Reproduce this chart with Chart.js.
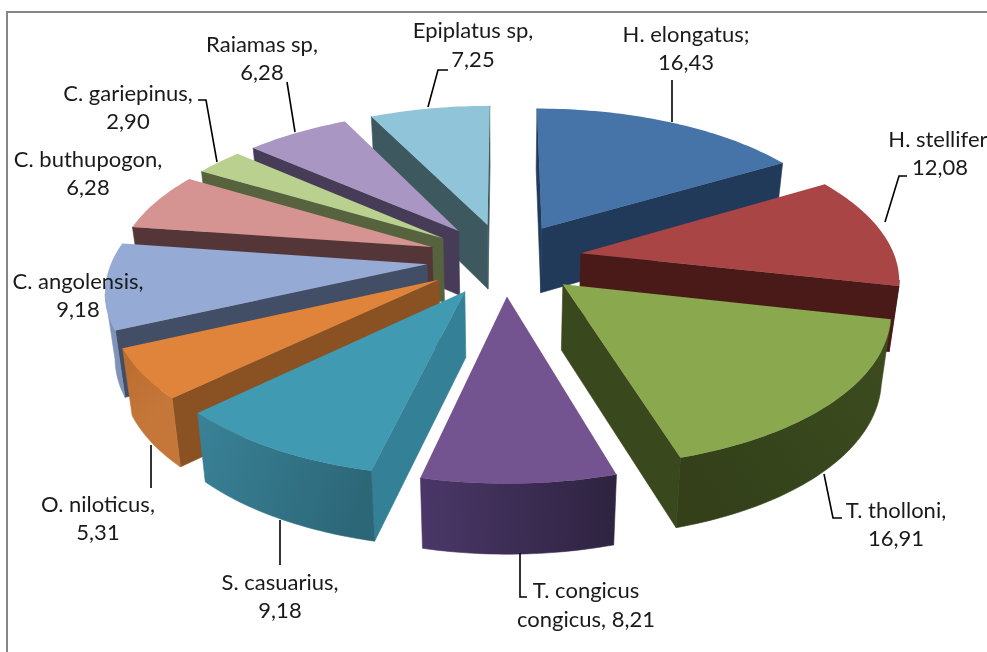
<!DOCTYPE html>
<html><head><meta charset="utf-8">
<style>html,body{margin:0;padding:0;background:#fff;overflow:hidden}canvas{display:block}</style>
<script src="https://cdn.jsdelivr.net/npm/chart.js@4"></script>
</head><body>
<canvas id="c" width="987" height="652"></canvas>
<script>
const categories = ["H. elongatus","H. stellifer","T. tholloni","T. congicus congicus","S. casuarius","O. niloticus","C. angolensis","C. buthupogon","C. gariepinus","Raiamas sp","Epiplatus sp"];
const values = [16.43,12.08,16.91,8.21,9.18,5.31,9.18,6.28,2.90,6.28,7.25];
const labelLines = [["H. elongatus;","16,43"],["H. stellifer,","12,08"],["T. tholloni,","16,91"],["T. congicus","congicus, 8,21"],["S. casuarius,","9,18"],["O. niloticus,","5,31"],["C. angolensis,","9,18"],["C. buthupogon,","6,28"],["C. gariepinus,","2,90"],["Raiamas sp,","6,28"],["Epiplatus sp,","7,25"]];
const topColors = ["#4674a9","#a94544","#8aa84d","#745490","#3f9ab2","#df843a","#95abd5","#d59491","#b9d08e","#a996c2","#90c4d9"];
const wallColors = ["#223a5a","#4a1a18","#3a481d","#3a2a50","#348097","#8a5223","#414e65","#553638","#56633e","#463c58","#3e5860"];
const rimStart = ["#223a5a","#4a1a18","#3d4d1f","#2e2340","#2c6778","#c5773a","#7f92b8","#553638","#56633e","#463c58","#3e5860"];
const rimEnd = ["#1f3658","#4a1a18","#33401a","#4a3768","#3a8298","#b96c2c","#8a9dc2","#553638","#56633e","#463c58","#3e5860"];
const labelAnchors = [[686,35,63],[940,140,168],[896,511,539],[586,591,620],[280,583,611],[98,505,533],[78,282,310],[88,160,188],[128,94,122],[262,45,73],[473,31,60]];
const leaders = [[[672,80],[672,122]],[[907,176],[899,176],[885,222]],[[824,474],[833,518],[842,518]],[[520,553],[520,597],[527,597]],[[280,520],[280,565]],[[151,445],[151,488]],[],[],[[198,100],[206,100],[217,162]],[[287,82],[295,132]],[[448,70],[438,70],[428,107]]];
const explode = 57;
const view = {kx:1.365, ky:0.635, persp:0.15, depth:65, depthPersp:0.4, bottomShrink:0.975};

const frame = {id:'frame',beforeDraw(ch){
  const c=ch.ctx;c.save();c.fillStyle='#fff';c.fillRect(0,0,ch.width,ch.height);
  c.strokeStyle='#868686';c.lineWidth=2;c.beginPath();c.moveTo(7,652);c.lineTo(7,12);c.lineTo(987,12);c.stroke();c.restore();
}};
const pie3d = {id:'pie3d',
  beforeDatasetDraw(ch,args){
    const c=ch.ctx, arcs=args.meta.data;
    const order=arcs.map((el,i)=>({el,i,mid:(el.startAngle+el.endAngle)/2})).sort((p,q)=>Math.sin(p.mid)-Math.sin(q.mid));
    order.forEach(({el,i,mid})=>{
      const R=el.outerRadius, off=el.options.offset/R;
      const ox=off*Math.cos(mid), oy=off*Math.sin(mid);
      const proj=(a,b,z)=>{
        const s=1/(1-view.persp*b);
        const shrink=z?view.bottomShrink:1;
        return [el.x+R*view.kx*a*s*shrink, el.y+R*view.ky*b*s+z*view.depth*Math.pow(s,view.depthPersp)];
      };
      const pts=[[ox,oy]];
      const n=Math.max(8,Math.ceil((el.endAngle-el.startAngle)/0.02));
      for(let k=0;k<=n;k++){const t=el.startAngle+(el.endAngle-el.startAngle)*k/n;pts.push([ox+Math.cos(t),oy+Math.sin(t)]);}
      const top=pts.map(p=>proj(p[0],p[1],0)), bot=pts.map(p=>proj(p[0],p[1],1));
      const N=top.length;
      const quad=(k,m,fill)=>{
        c.fillStyle=fill;c.strokeStyle=fill;c.lineWidth=0.6;
        c.beginPath();c.moveTo(...top[k]);c.lineTo(...top[m]);c.lineTo(...bot[m]);c.lineTo(...bot[k]);c.closePath();c.fill();c.stroke();
      };
      if(top[1][0]<top[0][0]) quad(0,1,wallColors[i]);
      if(top[0][0]<top[N-1][0]) quad(N-1,0,wallColors[i]);
      const g=c.createLinearGradient(top[1][0],top[1][1],top[N-1][0],top[N-1][1]);
      g.addColorStop(0,rimStart[i]);g.addColorStop(1,rimEnd[i]);
      let k=1;
      while(k<N-1){
        if(top[k+1][0]>=top[k][0]){k++;continue;}
        let e=k;
        while(e<N-1&&top[e+1][0]<top[e][0])e++;
        c.fillStyle=g;c.strokeStyle=g;c.lineWidth=0.6;c.beginPath();
        for(let j=k;j<=e;j++)j===k?c.moveTo(...top[j]):c.lineTo(...top[j]);
        for(let j=e;j>=k;j--)c.lineTo(...bot[j]);
        c.closePath();c.fill();c.stroke();
        k=e;
      }
      c.fillStyle=el.options.backgroundColor;
      c.beginPath();top.forEach((p,j)=>j?c.lineTo(...p):c.moveTo(...p));c.closePath();c.fill();
    });
    return false;
  },
  afterDraw(ch){
    const c=ch.ctx;c.save();
    c.strokeStyle='#000';c.lineWidth=1.6;
    leaders.forEach(l=>{if(!l.length)return;c.beginPath();l.forEach((p,k)=>k?c.lineTo(...p):c.moveTo(...p));c.stroke();});
    c.fillStyle='#1a1a1a';c.font='22px Lato';c.textAlign='center';c.textBaseline='middle';
    labelLines.forEach((ls,i)=>{const a=labelAnchors[i];c.fillText(ls[0],a[0],a[1]);c.fillText(ls[1],a[0],a[2]);});
    c.restore();
  }
};
new Chart(document.getElementById('c'),{
  type:'pie',
  data:{labels:categories,datasets:[{data:values,backgroundColor:topColors,offset:explode,borderWidth:0}]},
  options:{responsive:false,animation:false,devicePixelRatio:1,
    layout:{padding:{left:22,bottom:134}},
    plugins:{legend:{display:false},tooltip:{enabled:false}}},
  plugins:[frame,pie3d]
});
</script>
</body></html>
